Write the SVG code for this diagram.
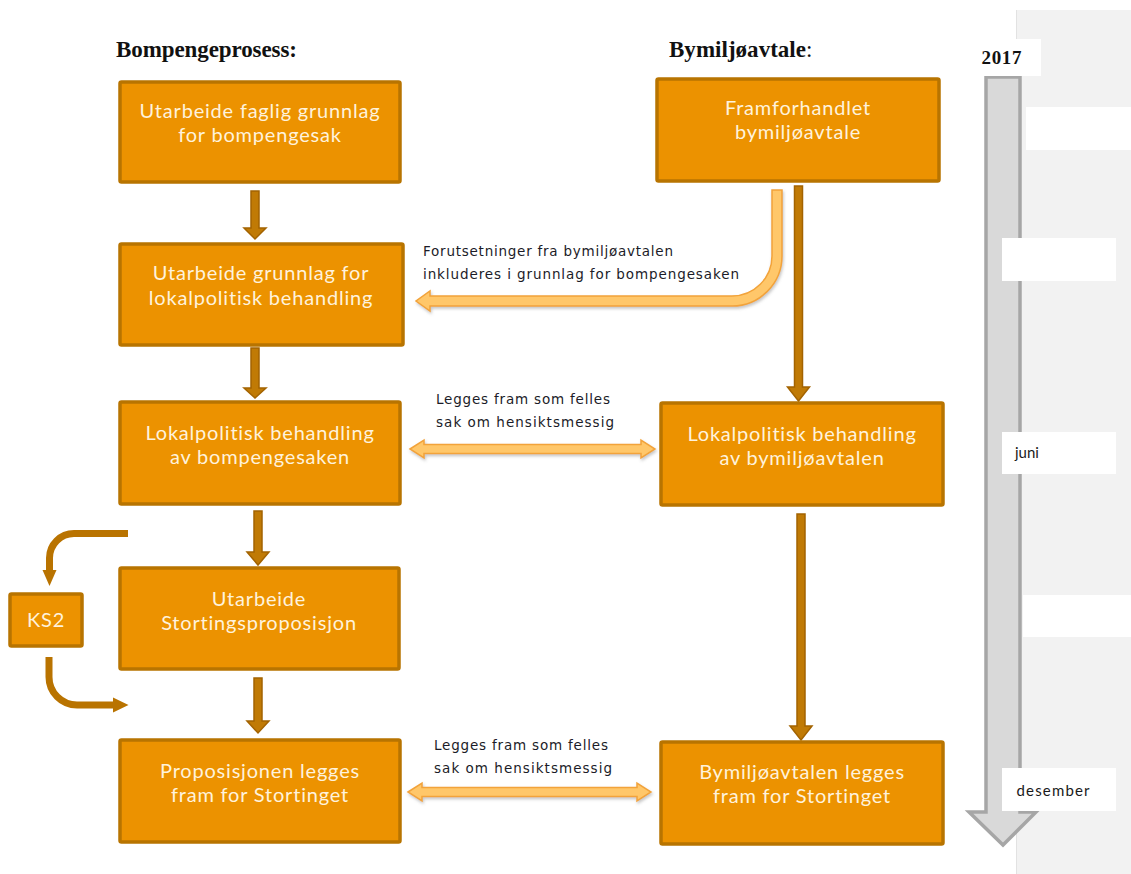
<svg xmlns="http://www.w3.org/2000/svg" width="1131" height="874" viewBox="0 0 1131 874">
<style>
.box{fill:#EC9200;stroke:#B87400;stroke-width:3.5}
.bt{font-family:Lato,"Noto Sans",sans-serif;font-size:20px;letter-spacing:0.8px;fill:#FFF2DC;text-anchor:middle}
.hdr{font-family:"Liberation Serif",serif;font-size:23px;font-weight:bold;fill:#111}
.lbl{font-family:"DejaVu Sans",sans-serif;font-size:13.5px;fill:#1c1c28}
.dark{fill:#C07A05;stroke:#A36300;stroke-width:1.5}
.light{fill:#FFC76A;stroke:#F2A33A;stroke-width:1.5;filter:url(#sh)}
.ks{fill:none;stroke:#B97300;stroke-width:7}
.tl{font-family:Lato,"Noto Sans",sans-serif;font-size:15px;fill:#1a1a1a}
</style>
<defs>
<filter id="sh" x="-10%" y="-50%" width="120%" height="200%">
<feDropShadow dx="1" dy="2" stdDeviation="1.5" flood-color="#808080" flood-opacity="0.45"/>
</filter>
</defs>
<rect width="1131" height="874" fill="#fff"/>

<g id="timeline">
<rect x="1016" y="10" width="115" height="864" fill="#F2F2F2"/>
<line x1="1016.5" y1="10" x2="1016.5" y2="874" stroke="#E2E2E2" stroke-width="1"/>
<path d="M986,77 H1020 V812 H1036 L1003,845 L969,812 H986 Z" fill="#D9D9D9" stroke="#A6A6A6" stroke-width="3.5"/>
<rect x="981" y="39" width="60" height="37" fill="#fff"/>
<text x="981.5" y="64" font-family="Liberation Serif,serif" font-size="19px" font-weight="bold" fill="#111" textLength="40">2017</text>
<rect x="1026" y="107" width="105" height="43" fill="#fff"/>
<rect x="1002" y="238" width="114" height="43" fill="#fff"/>
<rect x="1002" y="432" width="114" height="42" fill="#fff"/>
<text class="tl" x="1015" y="458">juni</text>
<rect x="1023" y="595" width="108" height="42" fill="#fff"/>
<rect x="1002" y="768" width="114" height="43" fill="#fff"/>
<text class="tl" x="1016.5" y="796" textLength="73">desember</text>
</g>

<g id="headers">
<text class="hdr" x="116" y="57" textLength="181">Bompengeprosess:</text>
<text class="hdr" x="669" y="57" textLength="137">Bymiljøavtale</text>
<text x="806" y="57" font-family="Liberation Serif,serif" font-size="23px" fill="#111">:</text>
</g>

<g id="connectors">
<path class="dark" d="M251,191 H259 V228 H266 L255,239 L244,228 H251 Z"/>
<path class="dark" d="M251,348 H259 V388 H266 L255,398 L244,388 H251 Z"/>
<path class="dark" d="M254,511 H262 V552 H269 L258,565 L247,552 H254 Z"/>
<path class="dark" d="M254,678 H262 V721 H269 L258,733 L247,721 H254 Z"/>
<path class="dark" d="M794.5,186 H802.5 V387 H809.5 L798.5,401 L787.5,387 H794.5 Z"/>
<path class="dark" d="M797,514 H805 V726 H812 L801,740 L790,726 H797 Z"/>
<path class="light" d="M772,190 H782 V256 A50,50 0 0 1 732,306 H430 V311 L416,301 L430,291 V296 H732 A40,40 0 0 0 772,256 Z"/>
<path class="light" d="M410,449 L424,440 V444.5 H641 V440 L655,449 L641,458 V453.5 H424 V458 Z"/>
<path class="light" d="M408,792 L422,783 V787.5 H637 V783 L651,792 L637,801 V796.5 H422 V801 Z"/>
<path class="ks" d="M128,533.5 H74 A24.5,24.5 0 0 0 49.5,558 V571"/>
<polygon points="42.5,570 56.5,570 49.5,586" fill="#B97300"/>
<path class="ks" d="M49,657 V677 A28,28 0 0 0 77,705 H114"/>
<polygon points="113,697.5 113,712.5 128.5,705" fill="#B97300"/>
</g>

<g id="labels">
<text class="lbl" x="423" y="256" textLength="250">Forutsetninger fra bymiljøavtalen</text>
<text class="lbl" x="423" y="279" textLength="316">inkluderes i grunnlag for bompengesaken</text>
<text class="lbl" x="436" y="404" textLength="174">Legges fram som felles</text>
<text class="lbl" x="436" y="427" textLength="178">sak om hensiktsmessig</text>
<text class="lbl" x="434" y="750" textLength="174">Legges fram som felles</text>
<text class="lbl" x="434" y="773" textLength="178">sak om hensiktsmessig</text>
</g>

<g id="n1"><rect class="box" x="120" y="82" width="280" height="100" rx="1.5"/>
<text class="bt" x="260" y="118">Utarbeide faglig grunnlag</text><text class="bt" x="260" y="142">for bompengesak</text></g>
<g id="n2"><rect class="box" x="120" y="244" width="283" height="101" rx="1.5"/>
<text class="bt" x="261" y="280">Utarbeide grunnlag for</text><text class="bt" x="261" y="305">lokalpolitisk behandling</text></g>
<g id="n3"><rect class="box" x="120" y="402" width="280" height="102" rx="1.5"/>
<text class="bt" x="260" y="440">Lokalpolitisk behandling</text><text class="bt" x="260" y="464">av bompengesaken</text></g>
<g id="n4"><rect class="box" x="120" y="568" width="279" height="101" rx="1.5"/>
<text class="bt" x="259" y="606">Utarbeide</text><text class="bt" x="259" y="630">Stortingsproposisjon</text></g>
<g id="n5"><rect class="box" x="120" y="740" width="280" height="102" rx="1.5"/>
<text class="bt" x="260" y="778">Proposisjonen legges</text><text class="bt" x="260" y="802">fram for Stortinget</text></g>
<g id="r1"><rect class="box" x="657" y="79" width="282" height="102" rx="1.5"/>
<text class="bt" x="798" y="115">Framforhandlet</text><text class="bt" x="798" y="139">bymiljøavtale</text></g>
<g id="r2"><rect class="box" x="661" y="403" width="282" height="102" rx="1.5"/>
<text class="bt" x="802" y="441">Lokalpolitisk behandling</text><text class="bt" x="802" y="465">av bymiljøavtalen</text></g>
<g id="r3"><rect class="box" x="661" y="742" width="282" height="102" rx="1.5"/>
<text class="bt" x="802" y="779">Bymiljøavtalen legges</text><text class="bt" x="802" y="803">fram for Stortinget</text></g>
<g id="ks2"><rect class="box" x="10" y="594" width="72" height="52" rx="1.5"/>
<text class="bt" x="46" y="627">KS2</text></g>
</svg>
